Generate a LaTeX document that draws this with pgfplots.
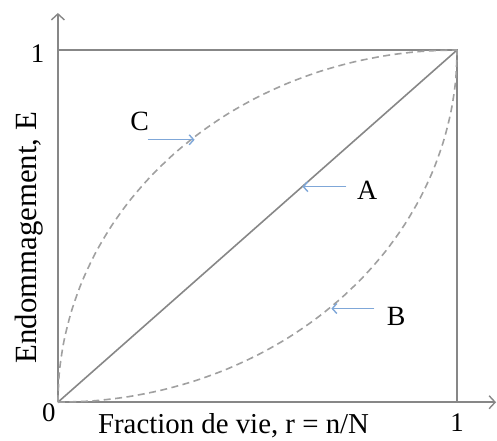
\documentclass[border=0pt]{standalone}
\usepackage{pgfplots}
\pgfplotsset{compat=1.18}
\usepackage{fontspec}
\setmainfont{Liberation Serif}
\usetikzlibrary{arrows.meta}
\definecolor{axgray}{HTML}{878787}
\definecolor{curvegray}{HTML}{A0A0A0}
\definecolor{arrblue}{HTML}{7FA7D8}
\begin{document}
\begin{tikzpicture}
\begin{axis}[
  scale only axis,
  width=439bp, height=390bp,
  xmin=0, xmax=1.0975, ymin=0, ymax=1.105,
  axis lines=left,
  axis line style={axgray, line width=1.9bp, -{Straight Barb[length=6bp,width=13bp,line width=1.4bp]}},
  xtick={1}, ytick={1},
  major tick length=0pt,
  /pgf/number format/assume math mode=true,
  ticklabel style={font=\fontsize{27}{30}\selectfont},
  xticklabel style={anchor=north, yshift=-8bp},
  yticklabel style={anchor=east, xshift=-10bp, yshift=-4bp},
  clip=false,
]
% box
\addplot[axgray, line width=1.9bp] coordinates {(0,1) (1,1) (1,0)};
% A: linear
\addplot[axgray, line width=1.6bp] coordinates {(0,0) (1,1)};
% C: concave
\addplot[curvegray, line width=1.6bp, dash pattern=on 7bp off 4.5bp, smooth] coordinates {
(0,0) (0.0038,0.0872) (0.0152,0.1736) (0.0341,0.2588) (0.0603,0.3420)
(0.0937,0.4226) (0.1340,0.5000) (0.1808,0.5736) (0.2340,0.6428)
(0.2929,0.7071) (0.3572,0.7660) (0.4264,0.8192) (0.5000,0.8660)
(0.5774,0.9063) (0.6580,0.9397) (0.7412,0.9659) (0.8264,0.9848)
(0.9128,0.9962) (1,1)};
% B: convex
\addplot[curvegray, line width=1.6bp, dash pattern=on 7bp off 4.5bp, smooth] coordinates {
(0,0) (0.0872,0.0038) (0.1736,0.0152) (0.2588,0.0341) (0.3420,0.0603)
(0.4226,0.0937) (0.5000,0.1340) (0.5736,0.1808) (0.6428,0.2340)
(0.7071,0.2929) (0.7660,0.3572) (0.8192,0.4264) (0.8660,0.5000)
(0.9063,0.5774) (0.9397,0.6580) (0.9659,0.7412) (0.9848,0.8264)
(0.9962,0.9128) (1,1)};
% annotation arrows
\draw[arrblue, line width=1.4bp, -{Straight Barb[length=4.5bp,width=10bp]}] (axis cs:0.225,0.745) -- (axis cs:0.3425,0.745);
\draw[arrblue, line width=1.4bp, -{Straight Barb[length=4.5bp,width=10bp]}] (axis cs:0.7225,0.612) -- (axis cs:0.6125,0.612);
\draw[arrblue, line width=1.4bp, -{Straight Barb[length=4.5bp,width=10bp]}] (axis cs:0.7925,0.266) -- (axis cs:0.685,0.266);
% labels
\node[font=\fontsize{28}{30}\selectfont] at (axis cs:0.205,0.796) {C};
\node[font=\fontsize{28}{30}\selectfont] at (axis cs:0.775,0.603) {A};
\node[font=\fontsize{28}{30}\selectfont] at (axis cs:0.8475,0.244) {B};
\node[font=\fontsize{27}{30}\selectfont, inner sep=0pt] at ([xshift=-9bp,yshift=-10bp]axis cs:0,0) {0};
\node[font=\fontsize{29}{32}\selectfont, anchor=base, inner sep=0pt] at ([yshift=-31bp]axis cs:0.44,0) {Fraction de vie, r = n/N};
\node[font=\fontsize{31}{34}\selectfont, anchor=base, rotate=90, inner sep=0pt] at ([xshift=-21bp]axis cs:0,0.467) {Endommagement, E};
\end{axis}
\path (-58bp,-38bp) rectangle (439bp,403bp);
\end{tikzpicture}
\end{document}
